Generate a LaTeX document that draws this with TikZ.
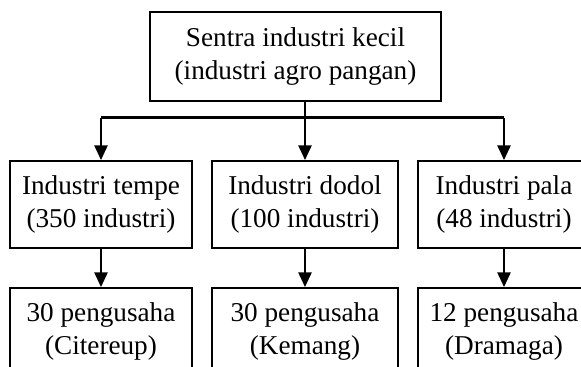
\documentclass[tikz,border=0pt]{standalone}
\usepackage{fontspec}
\setmainfont{Liberation Serif}
\usetikzlibrary{arrows.meta}
\begin{document}
\begin{tikzpicture}[x=0.75pt,y=-0.75pt,
    kotak/.style={draw, line width=1.5pt, align=center, inner sep=0pt,
      minimum height=65.25pt, font=\fontsize{20.4}{24.75}\selectfont},
    panah/.style={line width=1.2pt, -{Triangle[length=11pt,width=10pt]}}
  ]
  \useasboundingbox (0,0) rectangle (581,367);
  \clip (0,0) rectangle (581,367);
  % kotak utama
  \node[kotak, minimum width=218pt, minimum height=66.75pt] (sentra) at (295.5,56.5)
    {Sentra industri kecil\\(industri agro pangan)};
  % baris tengah
  \node[kotak, minimum width=136.5pt] (tempe) at (101,204.5) {Industri tempe\\(350 industri)};
  \node[kotak, minimum width=139.5pt] (dodol) at (305,204.5) {Industri dodol\\(100 industri)};
  \node[kotak, minimum width=129pt] (pala) at (504,204.5) {Industri pala\\(48 industri)};
  % baris bawah
  \node[kotak, minimum width=136.5pt] (citereup) at (101,331.5) {30 pengusaha\\(Citereup)};
  \node[kotak, minimum width=139.5pt] (kemang) at (305,331.5) {30 pengusaha\\(Kemang)};
  \node[kotak, minimum width=129pt] (dramaga) at (504,331.5) {12 pengusaha\\(Dramaga)};
  % percabangan
  \coordinate (cabang) at (305,118);
  \draw[line width=1.2pt] (sentra.south -| cabang) -- (cabang);
  \draw[line width=2.25pt] (tempe.north |- cabang) -- (pala.north |- cabang);
  \draw[panah] (tempe.north |- cabang) -- (tempe.north);
  \draw[panah] (cabang) -- (dodol.north);
  \draw[panah] (pala.north |- cabang) -- (pala.north);
  \draw[panah] (tempe) -- (citereup);
  \draw[panah] (dodol) -- (kemang);
  \draw[panah] (pala) -- (dramaga);
\end{tikzpicture}
\end{document}
